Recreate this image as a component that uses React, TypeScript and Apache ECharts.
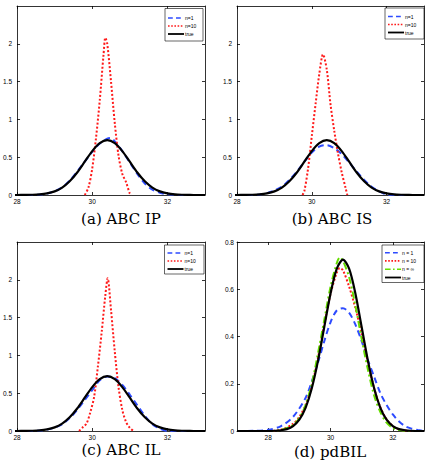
import React, { useEffect, useRef } from 'react';
import * as echarts from 'echarts';

// ---- data ----
const X_TICKS = [28, 30, 32];
const Y_TICKS_ABC = [0, 0.5, 1, 1.5, 2];
const Y_TICKS_D = [0, 0.2, 0.4, 0.6, 0.8];

const TRUE_X = [27, 27.5, 28, 28.2, 28.4, 28.6, 28.8, 29, 29.2, 29.4, 29.6, 29.8, 30, 30.2, 30.4, 30.6, 30.8, 31, 31.2, 31.4, 31.6, 31.8, 32, 32.2, 32.4, 32.6, 32.8, 33];
const TRUE_Y = [0, 0, 0, 0.001, 0.003, 0.008, 0.021, 0.048, 0.098, 0.181, 0.298, 0.44, 0.581, 0.686, 0.725, 0.686, 0.581, 0.44, 0.298, 0.181, 0.098, 0.048, 0.021, 0.008, 0.003, 0.001, 0, 0];

const A_N1 = [[28, 0], [28.4, 0.001], [28.6, 0.005], [28.8, 0.02], [29, 0.05], [29.2, 0.1], [29.4, 0.19], [29.6, 0.31], [29.8, 0.44], [30, 0.57], [30.2, 0.68], [30.4, 0.745], [30.5, 0.755], [30.6, 0.71], [30.8, 0.58], [31, 0.43], [31.2, 0.28], [31.4, 0.15], [31.6, 0.07], [31.8, 0.03], [32, 0.01], [32.2, 0.003], [32.4, 0], [33, 0]];
const A_N10 = [[29.8, 0], [29.9, 0.1], [30, 0.35], [30.1, 0.75], [30.2, 1.25], [30.3, 1.85], [30.35, 2.08], [30.4, 2.0], [30.5, 1.5], [30.6, 0.95], [30.7, 0.52], [30.8, 0.28], [30.9, 0.17], [31, 0.02], [31.05, 0]];

const B_N1 = [[28, 0], [28.4, 0.001], [28.6, 0.005], [28.8, 0.025], [29, 0.06], [29.2, 0.11], [29.4, 0.2], [29.6, 0.31], [29.8, 0.44], [30, 0.56], [30.2, 0.64], [30.4, 0.66], [30.6, 0.62], [30.8, 0.54], [31, 0.43], [31.2, 0.31], [31.4, 0.2], [31.6, 0.11], [31.8, 0.05], [32, 0.005], [32.2, 0], [33, 0]];
const B_N10 = [[29.75, 0], [29.8, 0.05], [29.9, 0.35], [30, 0.78], [30.1, 1.2], [30.2, 1.6], [30.3, 1.86], [30.4, 1.66], [30.5, 1.2], [30.6, 0.85], [30.7, 0.55], [30.8, 0.3], [30.9, 0.1], [30.95, 0]];

const C_N1 = [[28, 0], [28.4, 0.001], [28.6, 0.005], [28.8, 0.02], [29, 0.045], [29.2, 0.09], [29.4, 0.17], [29.6, 0.28], [29.8, 0.41], [30, 0.54], [30.2, 0.67], [30.4, 0.72], [30.6, 0.7], [30.8, 0.61], [31, 0.48], [31.2, 0.34], [31.4, 0.2], [31.6, 0.09], [31.8, 0.03], [32, 0], [33, 0]];
const C_N10 = [[29.65, 0], [29.75, 0.05], [29.85, 0.1], [29.95, 0.25], [30.05, 0.45], [30.15, 0.85], [30.25, 1.3], [30.35, 1.8], [30.41, 2.02], [30.5, 1.6], [30.6, 1.05], [30.7, 0.58], [30.8, 0.28], [30.9, 0.12], [31, 0.04], [31.1, 0]];

const D_N1 = [[27, 0], [27.6, 0.001], [28, 0.005], [28.4, 0.02], [28.8, 0.06], [29.2, 0.14], [29.4, 0.21], [29.6, 0.29], [29.8, 0.38], [30, 0.46], [30.2, 0.51], [30.4, 0.52], [30.6, 0.5], [30.8, 0.45], [31, 0.38], [31.2, 0.3], [31.4, 0.23], [31.6, 0.16], [31.8, 0.11], [32, 0.07], [32.2, 0.04], [32.4, 0.02], [32.6, 0.01], [32.8, 0.004], [33, 0]];
const D_N10 = [[27, 0], [28, 0], [28.4, 0.005], [28.8, 0.03], [29, 0.06], [29.2, 0.11], [29.4, 0.19], [29.6, 0.31], [29.8, 0.45], [30, 0.58], [30.2, 0.67], [30.3, 0.69], [30.4, 0.68], [30.6, 0.61], [30.8, 0.52], [31, 0.41], [31.2, 0.29], [31.4, 0.18], [31.6, 0.1], [31.8, 0.05], [32, 0.02], [32.2, 0.007], [32.4, 0.002], [32.6, 0], [33, 0]];
const D_NINF = [[27, 0], [28, 0], [28.4, 0.004], [28.8, 0.025], [29, 0.055], [29.2, 0.11], [29.4, 0.2], [29.6, 0.33], [29.8, 0.47], [30, 0.61], [30.2, 0.71], [30.3, 0.735], [30.4, 0.72], [30.6, 0.65], [30.8, 0.53], [31, 0.39], [31.2, 0.26], [31.4, 0.15], [31.6, 0.08], [31.8, 0.035], [32, 0.013], [32.2, 0.004], [32.4, 0.001], [32.6, 0], [33, 0]];

const NAMES_ABC = ['n=1', 'n=10', 'true'];
const NAMES_D = ['n = 1', 'n = 10', 'n = \u221e', 'true'];
const CAPTIONS = ['(a) ABC IP', '(b) ABC IS', '(c) ABC IL', '(d) pdBIL'];

// ---- styles ----
const BLUE = '#2d4bff';
const RED = '#ff1a1a';
const GREEN = '#66dd00';
const BLACK = '#000000';
const SANS = 'Liberation Sans';

const TRUE_PAIRS = TRUE_X.map((x, i) => [x, TRUE_Y[i]]);

const DASH = [6, 4];
const DOT = [2, 2];
const DASHDOT = [7, 3, 2, 3];

const PANELS = [
  {
    grid: { left: 15, top: 6, width: 190, height: 189 },
    xmin: 28, xmax: 33, ymax: 2.5, yTicks: Y_TICKS_ABC, yMargin: 5,
    lines: [
      { name: NAMES_ABC[0], data: A_N1, color: BLUE, type: DASH },
      { name: NAMES_ABC[1], data: A_N10, color: RED, type: DOT },
      { name: NAMES_ABC[2], data: TRUE_PAIRS, color: BLACK, type: 'solid' },
    ],
    legend: { x: 165, y: 8.5, w: 38, h: 32.5, rowY: [18, 26, 34] },
    caption: { text: CAPTIONS[0], x: 121, y: 219 },
  },
  {
    grid: { left: 237, top: 6, width: 187, height: 189 },
    xmin: 28, xmax: 33, ymax: 2.5, yTicks: Y_TICKS_ABC, yMargin: 5,
    lines: [
      { name: NAMES_ABC[0], data: B_N1, color: BLUE, type: DASH },
      { name: NAMES_ABC[1], data: B_N10, color: RED, type: DOT },
      { name: NAMES_ABC[2], data: TRUE_PAIRS, color: BLACK, type: 'solid' },
    ],
    legend: { x: 385, y: 8, w: 39, h: 31, rowY: [16.5, 24.5, 32.5] },
    caption: { text: CAPTIONS[1], x: 332, y: 219 },
  },
  {
    grid: { left: 15, top: 242, width: 190, height: 189 },
    xmin: 28, xmax: 33, ymax: 2.5, yTicks: Y_TICKS_ABC, yMargin: 5,
    lines: [
      { name: NAMES_ABC[0], data: C_N1, color: BLUE, type: DASH },
      { name: NAMES_ABC[1], data: C_N10, color: RED, type: DOT },
      { name: NAMES_ABC[2], data: TRUE_PAIRS, color: BLACK, type: 'solid' },
    ],
    legend: { x: 164.5, y: 245, w: 39.5, h: 29, rowY: [253, 261, 269] },
    caption: { text: CAPTIONS[2], x: 121, y: 449.5 },
  },
  {
    grid: { left: 237, top: 242, width: 187, height: 189 },
    xmin: 27, xmax: 33, ymax: 0.8, yTicks: Y_TICKS_D, yMargin: 3,
    lines: [
      { name: NAMES_D[0], data: D_N1, color: BLUE, type: DASH },
      { name: NAMES_D[1], data: D_N10, color: RED, type: DOT },
      { name: NAMES_D[2], data: D_NINF, color: GREEN, type: DASHDOT },
      { name: NAMES_D[3], data: TRUE_PAIRS, color: BLACK, type: 'solid' },
    ],
    legend: { x: 382, y: 245, w: 42, h: 37.5, rowY: [252.7, 260.9, 269.2, 277.5] },
    caption: { text: CAPTIONS[3], x: 330, y: 452 },
  },
];

function buildOption() {
  const grid: any[] = [];
  const xAxis: any[] = [];
  const yAxis: any[] = [];
  const series: any[] = [];
  const graphic: any[] = [];
  const lineS = { color: '#000', width: 0.8 };

  PANELS.forEach((p, i) => {
    grid.push({ ...p.grid, show: false, containLabel: false });
    const base = { gridIndex: i, splitLine: { show: false } };
    xAxis.push({
      ...base, type: 'value', position: 'bottom', min: p.xmin, max: p.xmax,
      axisLine: { show: true, onZero: false, lineStyle: lineS },
      axisTick: { show: true, inside: true, length: 3, customValues: X_TICKS, lineStyle: lineS },
      axisLabel: { show: true, customValues: X_TICKS, fontSize: 6.5, color: '#000', fontFamily: SANS, margin: 3 },
    });
    xAxis.push({
      ...base, type: 'value', position: 'top', min: p.xmin, max: p.xmax,
      axisLine: { show: true, onZero: false, lineStyle: lineS },
      axisTick: { show: true, inside: true, length: 3, customValues: X_TICKS, lineStyle: lineS },
      axisLabel: { show: false },
    });
    yAxis.push({
      ...base, type: 'value', position: 'left', min: 0, max: p.ymax,
      axisLine: { show: true, onZero: false, lineStyle: lineS },
      axisTick: { show: true, inside: true, length: 3, customValues: p.yTicks, lineStyle: lineS },
      axisLabel: { show: true, customValues: p.yTicks, fontSize: 6.5, color: '#000', fontFamily: SANS, margin: p.yMargin },
    });
    yAxis.push({
      ...base, type: 'value', position: 'right', min: 0, max: p.ymax,
      axisLine: { show: true, onZero: false, lineStyle: lineS },
      axisTick: { show: true, inside: true, length: 3, customValues: p.yTicks, lineStyle: lineS },
      axisLabel: { show: false },
    });
    p.lines.forEach((l) => {
      series.push({
        type: 'line', name: l.name, data: l.data,
        xAxisIndex: 2 * i, yAxisIndex: 2 * i,
        showSymbol: false, symbol: 'none', smooth: 0.3,
        color: l.color,
        lineStyle: { color: l.color, width: l.color === BLACK ? 2.2 : 2, type: l.type },
        clip: true, silent: true,
      });
    });
    // legend box drawn as graphic
    const L = p.legend;
    graphic.push({
      type: 'rect', z: 100,
      shape: { x: L.x, y: L.y, width: L.w, height: L.h },
      style: { fill: '#fff', stroke: '#000', lineWidth: 0.6 },
    });
    p.lines.forEach((l, k) => {
      const yy = L.rowY[k];
      graphic.push({
        type: 'line', z: 101,
        shape: { x1: L.x + 3, y1: yy, x2: L.x + 19, y2: yy },
        style: {
          stroke: l.color, lineWidth: l.color === BLACK ? 1.8 : 1.6,
          lineDash: l.type === 'solid' ? null : l.type.map((v: number) => v * 0.8),
        },
      });
      graphic.push({
        type: 'text', z: 101, x: L.x + 20, y: yy,
        style: { text: l.name, fill: '#000', font: `5px "${SANS}"`, textAlign: 'left', textVerticalAlign: 'middle' },
      });
    });
    graphic.push({
      type: 'text', x: p.caption.x, y: p.caption.y,
      style: { text: p.caption.text, fill: '#000', font: '15px "DejaVu Serif"', textAlign: 'center', textVerticalAlign: 'middle' },
    });
  });

  return { animation: false, backgroundColor: '#fff', grid, xAxis, yAxis, series, graphic };
}

export default function App() {
  const ref = useRef<HTMLDivElement>(null);
  useEffect(() => {
    const chart = echarts.init(ref.current!, null, { renderer: 'svg' });
    chart.setOption(buildOption() as any);
    return () => chart.dispose();
  }, []);
  return (
    <div
      ref={ref}
      style={{ position: 'absolute', left: 0, top: 0, width: 425, height: 460, background: '#fff' }}
    />
  );
}
